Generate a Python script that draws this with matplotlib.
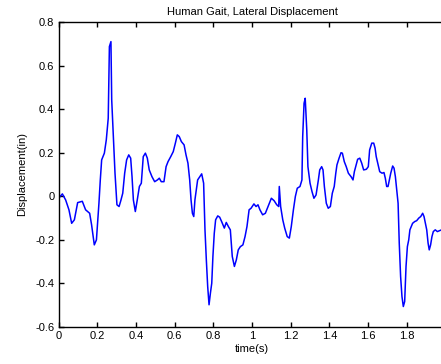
import matplotlib
matplotlib.use("Agg")
import matplotlib.pyplot as plt
from matplotlib.ticker import FuncFormatter

# Lateral displacement of the gait trace (time in s, displacement in inches)
time_s = [
    0.000, 0.020, 0.037, 0.054, 0.068, 0.082, 0.099, 0.123, 0.140, 0.161,
    0.171, 0.185, 0.196, 0.202, 0.209, 0.216, 0.223, 0.237, 0.247, 0.257,
    0.263, 0.271, 0.275, 0.285, 0.292, 0.302, 0.313, 0.322, 0.332, 0.342,
    0.352, 0.363, 0.373, 0.380, 0.387, 0.397, 0.407, 0.418, 0.428, 0.438,
    0.449, 0.459, 0.469, 0.483, 0.497, 0.511, 0.521, 0.531, 0.545, 0.556,
    0.566, 0.580, 0.593, 0.604, 0.614, 0.624, 0.635, 0.649, 0.659, 0.669,
    0.678, 0.685, 0.692, 0.699, 0.705, 0.712, 0.719, 0.730, 0.740, 0.750,
    0.757, 0.764, 0.771, 0.778, 0.785, 0.792, 0.798, 0.805, 0.812, 0.823,
    0.833, 0.843, 0.857, 0.867, 0.878, 0.888, 0.898, 0.909, 0.919, 0.929,
    0.940, 0.953, 0.964, 0.974, 0.985, 0.995, 1.010, 1.021, 1.031, 1.041,
    1.055, 1.069, 1.083, 1.100, 1.114, 1.128, 1.138, 1.141, 1.148, 1.159,
    1.169, 1.182, 1.193, 1.203, 1.214, 1.224, 1.234, 1.248, 1.258, 1.262,
    1.269, 1.275, 1.283, 1.289, 1.300, 1.310, 1.320, 1.331, 1.343, 1.350,
    1.360, 1.367, 1.374, 1.384, 1.394, 1.405, 1.415, 1.425, 1.433, 1.439,
    1.450, 1.460, 1.467, 1.477, 1.487, 1.498, 1.512, 1.522, 1.529, 1.536,
    1.546, 1.557, 1.567, 1.577, 1.591, 1.601, 1.608, 1.619, 1.629, 1.636,
    1.642, 1.650, 1.660, 1.672, 1.682, 1.689, 1.696, 1.703, 1.710, 1.717,
    1.727, 1.734, 1.741, 1.748, 1.755, 1.761, 1.768, 1.775, 1.782, 1.789,
    1.796, 1.803, 1.810, 1.816, 1.823, 1.830, 1.841, 1.851, 1.862, 1.872,
    1.882, 1.889, 1.896, 1.903, 1.910, 1.916, 1.923, 1.930, 1.937, 1.947,
    1.958, 1.972, 1.990,
]
displacement_in = [
    -0.010, 0.011, -0.017, -0.062, -0.124, -0.108, -0.029, -0.023, -0.062, -0.078,
    -0.131, -0.223, -0.200, -0.124, -0.032, 0.075, 0.167, 0.198, 0.259, 0.358,
    0.687, 0.710, 0.442, 0.244, 0.106, -0.039, -0.047, -0.020, 0.014, 0.106,
    0.167, 0.190, 0.175, 0.090, -0.017, -0.070, -0.017, 0.045, 0.060, 0.182,
    0.198, 0.175, 0.121, 0.090, 0.067, 0.075, 0.083, 0.067, 0.067, 0.136,
    0.159, 0.182, 0.205, 0.244, 0.282, 0.274, 0.251, 0.236, 0.190, 0.152,
    0.075, -0.017, -0.078, -0.093, -0.017, 0.029, 0.075, 0.090, 0.103, 0.060,
    -0.154, -0.292, -0.414, -0.498, -0.445, -0.399, -0.276, -0.170, -0.108, -0.090,
    -0.096, -0.116, -0.146, -0.120, -0.139, -0.154, -0.276, -0.322, -0.292, -0.246,
    -0.231, -0.223, -0.185, -0.139, -0.062, -0.055, -0.035, -0.047, -0.039, -0.062,
    -0.085, -0.078, -0.047, -0.009, -0.020, -0.039, -0.047, 0.045, -0.047, -0.108,
    -0.146, -0.185, -0.192, -0.139, -0.062, -0.001, 0.037, 0.045, 0.075, 0.274,
    0.427, 0.450, 0.305, 0.136, 0.060, 0.022, -0.009, 0.006, 0.075, 0.121,
    0.136, 0.121, 0.045, -0.032, -0.055, -0.047, 0.014, 0.045, 0.106, 0.144,
    0.175, 0.200, 0.198, 0.159, 0.136, 0.106, 0.090, 0.075, 0.113, 0.136,
    0.170, 0.175, 0.152, 0.121, 0.124, 0.136, 0.213, 0.244, 0.244, 0.221,
    0.182, 0.152, 0.113, 0.106, 0.109, 0.083, 0.045, 0.045, 0.075, 0.106,
    0.139, 0.129, 0.090, 0.029, -0.032, -0.215, -0.368, -0.460, -0.506, -0.483,
    -0.322, -0.231, -0.200, -0.154, -0.139, -0.124, -0.116, -0.112, -0.100, -0.093,
    -0.078, -0.093, -0.124, -0.154, -0.215, -0.246, -0.223, -0.185, -0.162, -0.154,
    -0.162, -0.157, -0.150,
]

x_ticks = [0, 0.2, 0.4, 0.6, 0.8, 1.0, 1.2, 1.4, 1.6, 1.8]
y_ticks = [-0.6, -0.4, -0.2, 0, 0.2, 0.4, 0.6, 0.8]

plt.rcParams["font.family"] = ["Liberation Sans", "DejaVu Sans"]
plt.rcParams["font.size"] = 8

fig = plt.figure(figsize=(4.41, 3.64), dpi=100)
ax = fig.add_axes([58.5 / 441, 37 / 364, 387 / 441, 305 / 364])

ax.plot(time_s, displacement_in, color="#0000ff", linewidth=1.1)

ax.set_xlim(0, 2)
ax.set_ylim(-0.6, 0.8)
ax.set_xticks(x_ticks)
ax.set_yticks(y_ticks)

fmt = FuncFormatter(lambda v, _: f"{v:g}" if abs(v) > 1e-9 else "0")
ax.xaxis.set_major_formatter(fmt)
ax.yaxis.set_major_formatter(fmt)

ax.tick_params(direction="in", length=3.5, width=1.0, top=True, right=False,
               labelsize=8, pad=3, colors="black")
for s in ax.spines.values():
    s.set_linewidth(1.0)
    s.set_color("black")

ax.set_title("Human Gait, Lateral Displacement", fontsize=8, pad=5)
ax.set_xlabel("time(s)", fontsize=8, labelpad=2)
ax.set_ylabel("Displacement(in)", fontsize=8, labelpad=6)

fig.savefig("out.png", dpi=100)
